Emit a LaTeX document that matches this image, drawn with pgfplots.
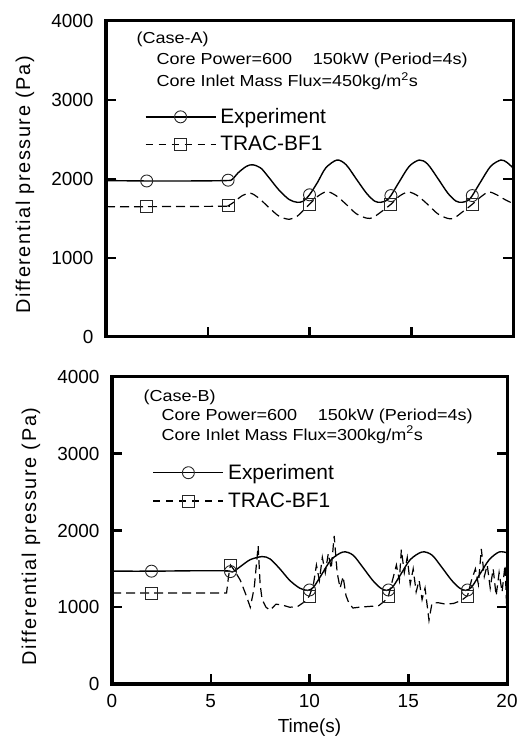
\documentclass[border=0pt]{standalone}
\usepackage{pgfplots}
\pgfplotsset{compat=1.18}
\usepackage{fontspec}
\setmainfont{Liberation Sans}
\newfontfamily\casefont[FakeStretch=1.13]{Liberation Sans}
\newfontfamily\ylabfont[LetterSpace=8]{Liberation Sans}
\begin{document}
\begin{tikzpicture}
\useasboundingbox (0bp,0bp) rectangle (529bp,738bp);
\pgfplotsset{
  myaxis/.style={
    scale only axis,
    xmin=0,xmax=20,ymin=0,ymax=4000,
    xtick={0,5,10,15,20},
    ytick={0,1000,2000,3000,4000},
    tick align=inside,
    xtick pos=left,
    ytick pos=both,
    major tick length=10bp,
    major tick style={black, line width=2.5bp},
    axis line style={line width=3bp},
    tick label style={font=\fontsize{19}{21}\selectfont},
    /pgf/number format/assume math mode=true,
    /pgf/number format/1000 sep={},
    scaled y ticks=false,
    yticklabel style={xshift=-9bp},
    xticklabel style={yshift=-7bp},
    every axis y label/.style={at={(axis description cs:0,0.5)}, xshift=-81bp, yshift=-6bp, rotate=90, anchor=center, font=\ylabfont\fontsize{20}{22}\selectfont},
    ylabel={Differential pressure (Pa)},
    legend cell align=left,
    legend style={draw=none, fill=none, inner sep=0pt, row sep=7bp, column sep=2bp, font=\fontsize{21}{23}\selectfont},
    legend image code/.code={\draw[mark repeat=2,mark phase=2,##1] plot coordinates {(0bp,0bp) (35bp,0bp) (70bp,0bp)};},
  },
  expline/.style={black, line width=1.4bp, smooth, mark=none},
  tracline/.style={black, line width=1.2bp, dash pattern=on 9bp off 5bp, mark=none},
  expmark/.style={only marks, mark=o, mark size=6bp, black!85, mark options={line width=0.9bp, solid}},
  tracmark/.style={only marks, mark=square, mark size=6bp, black!85, mark options={line width=0.9bp, solid}},
}
% ---------------- Case A ----------------
\begin{axis}[myaxis, anchor=south west, at={(106bp,401bp)}, width=407bp, height=316bp,
  xticklabels={},
  legend style={at={(axis cs:1.9,2920)}, anchor=north west}]
\addlegendimage{black, line width=1.4bp, mark=o, mark size=6bp, mark options={line width=0.9bp, solid, black!85}}
\addlegendentry{Experiment}
\addlegendimage{black, line width=1.2bp, dash pattern=on 7bp off 6bp, mark=square, mark size=6bp, mark options={line width=0.9bp, solid, black!85}}
\addlegendentry{TRAC-BF1}
\addplot[expline, forget plot] coordinates {
(0,1980) (2,1975) (4,1975) (5.9,1980) (6.2,1995) (6.5,2080) (6.9,2160) (7.2,2180) (7.6,2140) (8.0,2020) (8.5,1860) (9.0,1740) (9.4,1705) (9.7,1720) (10.0,1800) (10.4,1960) (10.8,2140) (11.35,2240) (11.8,2180) (12.3,2000) (12.8,1820) (13.2,1720) (13.5,1705) (13.8,1730) (14.0,1790) (14.4,1960) (14.9,2160) (15.4,2240) (15.8,2190) (16.3,2010) (16.8,1820) (17.2,1720) (17.5,1705) (17.8,1730) (18.0,1790) (18.4,1960) (18.9,2160) (19.4,2240) (19.7,2210) (20.0,2140)};
\addplot[tracline, smooth, forget plot] coordinates {
(0,1650) (2,1650) (5.9,1655) (6.0,1660) (6.3,1710) (6.7,1790) (7.1,1820) (7.5,1760) (8.0,1640) (8.5,1530) (9.0,1490) (9.4,1530) (9.8,1630) (10.0,1680) (10.4,1780) (10.85,1840) (11.3,1790) (11.8,1680) (12.3,1560) (12.8,1505) (13.1,1510) (13.5,1580) (14.0,1680) (14.4,1780) (14.85,1835) (15.3,1790) (15.8,1680) (16.3,1560) (16.8,1500) (17.1,1505) (17.5,1580) (18.0,1680) (18.4,1770) (18.8,1835) (19.2,1800) (19.6,1740) (20.0,1690)};
\addplot[expmark, forget plot] coordinates {(2,1975) (6,1985) (10,1800) (14,1790) (18,1790)};
\addplot[tracmark, forget plot] coordinates {(2,1650) (6,1660) (10,1680) (14,1680) (18,1680)};
\node[anchor=west, font=\casefont\fontsize{16}{18}\selectfont] at (axis cs:1.33,3772) {(Case-A)};
\node[anchor=west, font=\casefont\fontsize{16}{18}\selectfont] at (axis cs:2.31,3506) {Core Power=600\hspace{1.3em}150kW (Period=4s)};
\node[anchor=west, font=\casefont\fontsize{16}{18}\selectfont] at (axis cs:2.31,3241) {Core Inlet Mass Flux=450kg/m\textsuperscript{2}s};
\end{axis}
% ---------------- Case B ----------------
\begin{axis}[myaxis, anchor=south west, at={(112bp,54bp)}, width=395bp, height=307bp,
  xlabel={Time(s)},
  every axis x label/.style={at={(axis description cs:0.5,0)}, yshift=-44bp, anchor=center, font=\fontsize{19}{21}\selectfont},
  legend style={at={(axis cs:2.05,2890)}, anchor=north west, row sep=8bp}]
\addlegendimage{black, line width=1.4bp, mark=o, mark size=6bp, mark options={line width=0.9bp, solid, black!85}}
\addlegendentry{Experiment}
\addlegendimage{black, line width=1.2bp, dash pattern=on 7bp off 6bp, mark=square, mark size=6bp, mark options={line width=0.9bp, solid, black!85}}
\addlegendentry{TRAC-BF1}
\addplot[expline, forget plot] coordinates {
(0,1470) (2,1470) (4,1475) (5.8,1475) (6.1,1460) (6.5,1530) (7.0,1620) (7.6,1660) (8.0,1630) (8.5,1500) (9.0,1350) (9.5,1250) (9.9,1220) (10.2,1260) (10.6,1420) (11.1,1620) (11.7,1720) (12.2,1680) (12.7,1520) (13.2,1350) (13.6,1250) (13.9,1220) (14.2,1260) (14.6,1420) (15.1,1620) (15.7,1720) (16.2,1680) (16.7,1520) (17.2,1350) (17.6,1250) (17.9,1220) (18.2,1260) (18.6,1420) (19.1,1620) (19.6,1720) (20.0,1710)};
\addplot[tracline, forget plot] coordinates {
(0,1185) (5.8,1185) (5.9,1400) (6.0,1550) (6.2,1480) (6.5,1350) (6.8,1150) (7.0,1000) (7.2,1250) (7.4,1800) (7.5,1300) (7.6,1100) (7.8,1000) (8.0,960) (8.3,1040) (8.6,1030) (9.0,1000) (9.4,1010) (9.8,1080) (10.0,1150) (10.2,1300) (10.35,1550) (10.5,1350) (10.65,1650) (10.8,1450) (10.95,1700) (11.1,1500) (11.25,1930) (11.4,1450) (11.55,1250) (11.7,1400) (11.85,1150) (12.0,1050) (12.2,990) (12.5,1000) (13.0,1010) (13.5,1020) (13.8,1080) (14.0,1150) (14.2,1350) (14.4,1550) (14.55,1350) (14.65,1750) (14.8,1450) (14.95,1650) (15.1,1300) (15.25,1500) (15.4,1200) (15.55,1350) (15.7,1100) (15.85,1250) (16.05,830) (16.2,1050) (16.5,1060) (16.9,1040) (17.3,1050) (17.7,1090) (18.0,1150) (18.2,1350) (18.4,1500) (18.55,1300) (18.7,1760) (18.85,1400) (19.0,1550) (19.15,1250) (19.3,1500) (19.45,1150) (19.6,1450) (19.75,1200) (19.9,1550) (20.0,900)};
\addplot[expmark, forget plot] coordinates {(2,1470) (6,1465) (10,1225) (14,1225) (18,1225)};
\addplot[tracmark, forget plot] coordinates {(2,1185) (6,1550) (10,1140) (14,1140) (18,1140)};
\node[anchor=west, font=\casefont\fontsize{16}{18}\selectfont] at (axis cs:1.42,3729) {(Case-B)};
\node[anchor=west, font=\casefont\fontsize{16}{18}\selectfont] at (axis cs:2.33,3481) {Core Power=600\hspace{1.3em}150kW (Period=4s)};
\node[anchor=west, font=\casefont\fontsize{16}{18}\selectfont] at (axis cs:2.33,3246) {Core Inlet Mass Flux=300kg/m\textsuperscript{2}s};
\end{axis}
\end{tikzpicture}
\end{document}
